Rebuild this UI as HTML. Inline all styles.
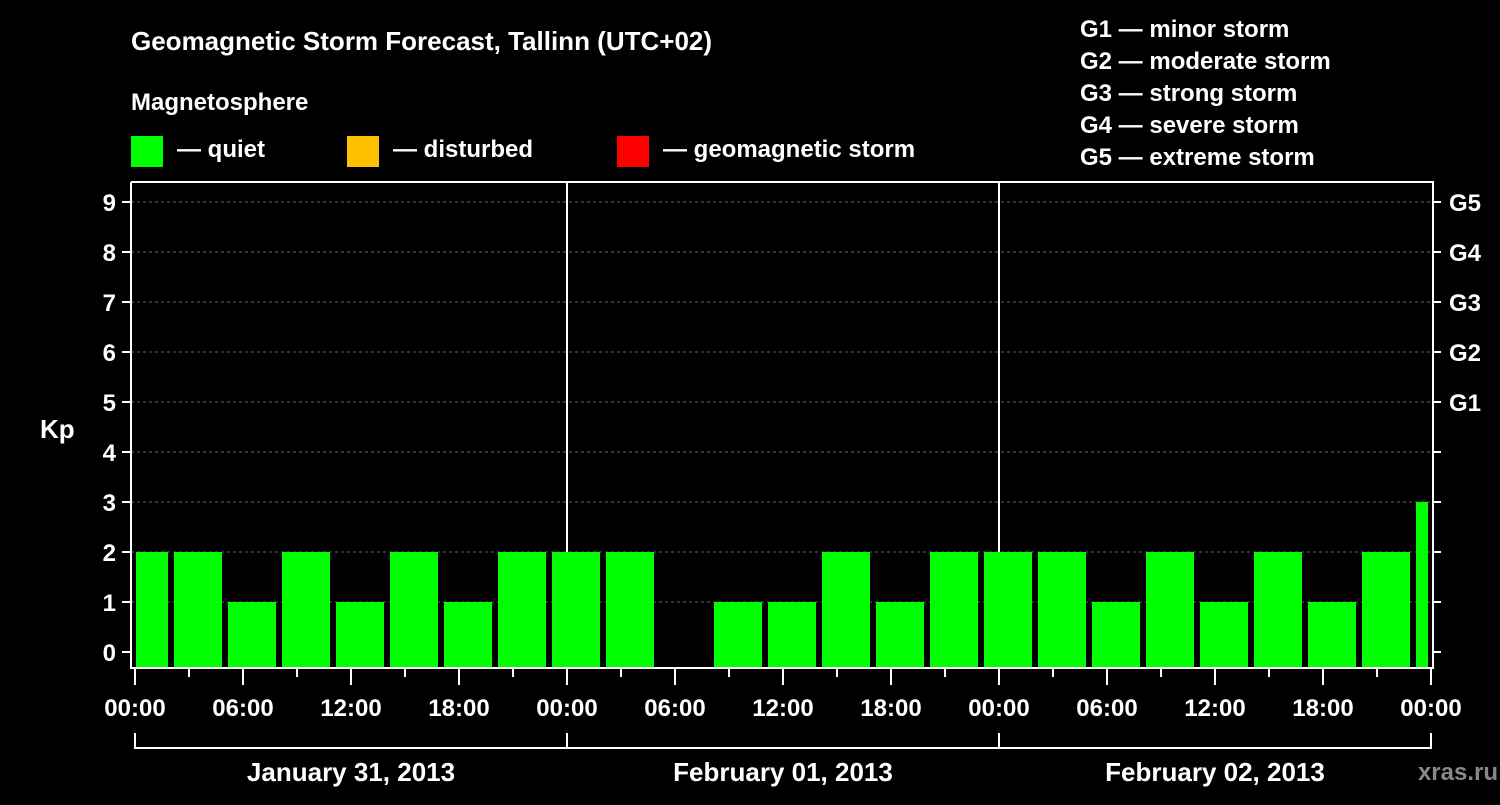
<!DOCTYPE html>
<html><head><meta charset="utf-8"><style>
body{margin:0;background:#000;}
svg text{font-family:"Liberation Sans",sans-serif;font-weight:bold;fill:#fff;}
</style></head><body>
<svg id="c" width="1500" height="800" xmlns="http://www.w3.org/2000/svg">
<rect width="1500" height="800" fill="#000"/>
<text x="131" y="50" font-size="26">Geomagnetic Storm Forecast, Tallinn (UTC+02)</text>
<text x="131" y="110" font-size="24">Magnetosphere</text>
<g><rect x="131" y="136" width="32" height="31" fill="#00ff00"/><text x="177" y="157" font-size="24">— quiet</text></g>
<g><rect x="347" y="136" width="32" height="31" fill="#ffc000"/><text x="393" y="157" font-size="24">— disturbed</text></g>
<g><rect x="617" y="136" width="32" height="31" fill="#ff0000"/><text x="663" y="157" font-size="24">— geomagnetic storm</text></g>
<g font-size="24">
<text x="1080" y="37">G1 — minor storm</text>
<text x="1080" y="69">G2 — moderate storm</text>
<text x="1080" y="101">G3 — strong storm</text>
<text x="1080" y="133">G4 — severe storm</text>
<text x="1080" y="165">G5 — extreme storm</text>
</g>
<text x="40" y="438" font-size="26">Kp</text>
<text x="1498" y="780" font-size="24" text-anchor="end" fill="#777" style="fill:#888">xras.ru</text>
<g id="grid"></g><g id="bars"></g><g id="axes"></g>
</svg>
<script>
const kpValues=[2,2,1,2,1,2,1,2,2,2,null,1,1,2,1,2,2,2,1,2,1,2,1,2,3];
const yTicks=[0,1,2,3,4,5,6,7,8,9];
const gLabels=["G1","G2","G3","G4","G5"];
const timeLabels=["00:00","06:00","12:00","18:00","00:00","06:00","12:00","18:00","00:00","06:00","12:00","18:00","00:00"];
const dayLabels=["January 31, 2013","February 01, 2013","February 02, 2013"];
const NS="http://www.w3.org/2000/svg";
const x0=135,pxH=18,L=131,R=1433,T=182,B=668;
const yS=v=>652-v*50;
const xS=h=>x0+h*pxH;
function mk(t,a,p){const e=document.createElementNS(NS,t);for(const k in a)e.setAttribute(k,a[k]);p.appendChild(e);return e;}
const grid=document.getElementById('grid'),bars=document.getElementById('bars'),axes=document.getElementById('axes');
yTicks.forEach(v=>{if(v>=1){const l=mk('line',{x1:L,x2:R,y1:yS(v),y2:yS(v),stroke:'#666','stroke-dasharray':'3,3'},grid);}});
[24,48].forEach(h=>{const l=mk('line',{x1:xS(h),x2:xS(h),y1:T,y2:B,stroke:'#fff','stroke-width':2},grid);});
kpValues.forEach((v,k)=>{if(v===null)return;let a=xS(3*k-0.833),b=a+48;a=Math.max(a,136);b=Math.min(b,1428);
const r=mk('rect',{x:a,y:yS(v),width:b-a,height:667-yS(v),fill:v>=5?'#ff0000':v>=4?'#ffc000':'#00ff00'},bars);
});
const f=mk('path',{d:`M${L} ${T}V${B}H${R}V${T}H${L}`,stroke:'#fff','stroke-width':2,fill:'none'},axes);

yTicks.forEach(v=>{mk('line',{x1:122,x2:L,y1:yS(v),y2:yS(v),stroke:'#fff','stroke-width':2},axes);
mk('line',{x1:R,x2:1441,y1:yS(v),y2:yS(v),stroke:'#fff','stroke-width':2},axes);
const t=mk('text',{x:116,y:yS(v)+9,'font-size':24,'text-anchor':'end'},axes);t.textContent=v;
});
gLabels.forEach((g,i)=>{const t=mk('text',{x:1449,y:yS(5+i)+9,'font-size':24},axes);t.textContent=g;
});
for(let h=0;h<=72;h+=3){const maj=h%6===0;mk('line',{x1:xS(h),x2:xS(h),y1:B,y2:maj?685:677,stroke:'#fff','stroke-width':2},axes);}
timeLabels.forEach((s,i)=>{const t=mk('text',{x:xS(6*i),y:716,'font-size':24,'text-anchor':'middle'},axes);t.textContent=s;
});
mk('path',{d:`M${xS(0)} 733V748H${xS(72)}V733M${xS(24)} 733V748M${xS(48)} 733V748`,stroke:'#fff','stroke-width':2,fill:'none'},axes);
dayLabels.forEach((s,i)=>{const t=mk('text',{x:xS(24*i+12),y:781,'font-size':26,'text-anchor':'middle'},axes);t.textContent=s;
});
</script>
</body></html>
